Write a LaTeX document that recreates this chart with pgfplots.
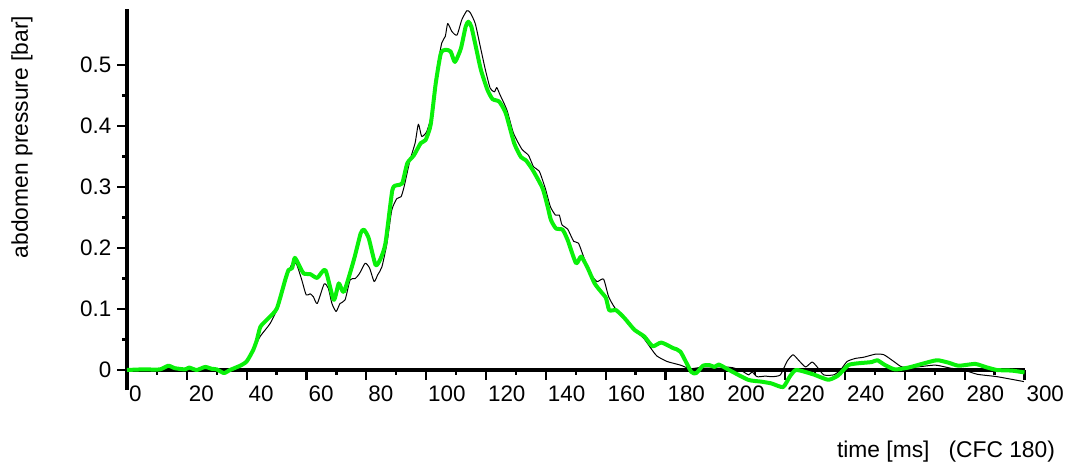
\documentclass[border=0pt]{standalone}
\usepackage{fontspec}
\setmainfont{Liberation Sans}
\usepackage{pgfplots}
\pgfplotsset{compat=1.18}
\definecolor{brightgreen}{RGB}{10,240,10}
\begin{document}
\begin{tikzpicture}
\useasboundingbox (-63.5pt,-39pt) rectangle (470.5pt,195pt);
\begin{axis}[
  at={(0,0)}, anchor=south west,
  scale only axis,
  width=448.75pt, height=190.5pt,
  xmin=0, xmax=300,
  ymin=-0.0328, ymax=0.5918,
  axis x line*=middle,
  axis y line*=left,
  hide obscured x ticks=false,
  hide obscured y ticks=false,
  axis line style={line width=1.6pt},
  x axis line style={line width=1.6pt},
  y axis line style={line width=1.6pt},
  tick align=outside,
  xtick={0,20,...,300},
  ytick={0,0.1,0.2,0.3,0.4,0.5},
  minor x tick num=1,
  minor y tick num=1,
  major tick length=4.8pt,
  minor tick length=2.4pt,
  major tick style={black, line width=1.1pt},
  minor tick style={black, line width=1.1pt},
  tick label style={font=\fontsize{11.2}{13}\selectfont},
  /pgf/number format/assume math mode=true,
  xticklabel style={anchor=north west, xshift=-2.5pt, yshift=0.5pt},
  yticklabel style={anchor=east, xshift=0.5pt},
  clip=false,
]
% black trace (unfiltered)
\addplot[black, line width=0.5pt, line join=round, smooth, tension=0.35] coordinates {
(0,0) (10,0) (20,0.001) (30,0) (35,0.002) (38.9,0.008) (42.3,0.033) (44.5,0.055)
(47.8,0.076) (50.6,0.104) (52.8,0.142) (54.5,0.167) (55.6,0.178) (56.8,0.172)
(58.4,0.148) (59.9,0.123) (61.2,0.125) (62.3,0.120) (63.6,0.109) (65.9,0.141)
(67.3,0.134) (68.5,0.109) (69.9,0.096) (71.2,0.109) (72.9,0.115) (74.6,0.148)
(76.3,0.150) (77.7,0.158) (79.6,0.175) (81.1,0.167) (82.6,0.145) (83.8,0.156)
(85.2,0.169) (86.9,0.208) (88.5,0.262) (90.2,0.281) (91.6,0.284) (92.6,0.300)
(94.6,0.344) (96.3,0.372) (97.4,0.403) (98.5,0.383) (100.2,0.391) (101.9,0.421)
(103.6,0.492) (105.2,0.536) (106.4,0.547) (107.2,0.568) (108.6,0.555) (110.3,0.549)
(111.9,0.574) (113.6,0.589) (114.7,0.586) (116.4,0.568) (118.1,0.530) (119.8,0.492)
(121.4,0.462) (122.8,0.456) (123.6,0.463) (124.7,0.451) (127,0.426) (129.2,0.388)
(132,0.362) (134.2,0.352) (135.9,0.333) (137.8,0.326) (139.8,0.298) (141.5,0.268)
(143.2,0.254) (144.5,0.254) (145.4,0.238) (147.3,0.231) (149.3,0.211) (150.9,0.208)
(152.6,0.186) (154.8,0.159) (157.1,0.145) (159.3,0.149) (161,0.120) (163.2,0.101)
(166.3,0.085) (169.6,0.066) (172.7,0.052) (175.5,0.033) (177.1,0.023) (180.5,0.014)
(185,0.008) (188.3,0.002) (192.7,0.005) (199.4,0.005) (202.2,0.004) (205,0)
(207.8,-0.008) (208.9,-0.003) (210.6,-0.011) (213.4,-0.010) (215.6,-0.011)
(218.4,-0.008) (220.6,0.014) (222.6,0.025) (224.5,0.016) (226.8,0.005) (229,0.013)
(230.7,0.005) (232.9,-0.008) (236.2,-0.008) (238.5,0) (240.7,0.014) (243.5,0.019)
(246.3,0.021) (250.2,0.026) (253,0.025) (256.3,0.014) (259.1,0.005) (264.1,0.005)
(270.2,0.008) (275.3,0.003) (279.7,0) (284.2,-0.007) (290.9,-0.011) (299.8,-0.019)
};
% green trace (CFC 180)
\addplot[brightgreen, line width=2pt, line join=round, smooth, tension=0.35] coordinates {
(0,0) (5,0.001) (11,0.001) (13.8,0.007) (16,0.003) (19.4,0.001) (20.8,0.004)
(23.3,0) (26.1,0.005) (28.3,0.002) (30,0.001) (32.4,-0.005) (34.4,0) (37.8,0.007)
(40,0.014) (42.2,0.033) (43.4,0.049) (44.6,0.071) (47.3,0.085) (50.1,0.101)
(52.9,0.148) (54,0.164) (55.2,0.167) (56.1,0.184) (58,0.167) (59.1,0.158)
(61.3,0.157) (63.6,0.151) (66.3,0.164) (69.1,0.115) (70.8,0.142) (72.5,0.128)
(75.8,0.180) (78.1,0.224) (79.2,0.230) (80.8,0.216) (83.1,0.172) (84.8,0.183)
(86.4,0.208) (88.7,0.295) (90.3,0.303) (92,0.306) (93.7,0.339) (95.9,0.352)
(98.2,0.372) (99.8,0.377) (101.5,0.402) (103.2,0.470) (104.9,0.519) (106.5,0.525)
(108.2,0.522) (109.6,0.505) (111.6,0.527) (113.2,0.563) (114.1,0.571) (115.1,0.563)
(116.6,0.530) (118.3,0.492) (120.5,0.459) (122.2,0.444) (124.4,0.440) (126.6,0.421)
(129.4,0.372) (131.7,0.349) (133.3,0.344) (135.6,0.328) (138.9,0.298) (140.6,0.268)
(141.7,0.246) (143.4,0.232) (145.6,0.230) (147.3,0.213) (150.1,0.175) (151.8,0.186)
(154,0.167) (156.3,0.142) (158.5,0.128) (160.1,0.118) (161.2,0.098) (163.5,0.098)
(166.3,0.085) (169.6,0.066) (172.9,0.055) (175.7,0.039) (178.6,0.045) (182.5,0.036)
(185,0.030) (188.6,-0.003) (190.3,-0.005) (192.5,0.007) (194.7,0.008) (196.4,0.005)
(197.8,0.009) (200.9,0.001) (207.6,-0.016) (211.9,-0.019) (215.4,-0.022)
(219.3,-0.028) (221.5,-0.011) (223.5,0) (226.6,-0.003) (229.9,-0.008) (234.4,-0.016)
(237.7,-0.009) (241.1,0.008) (244.4,0.011) (248.9,0.013) (250.8,0.016) (253.4,0.008)
(256.7,0.001) (261.2,0.004) (265.7,0.010) (270.7,0.016) (274.6,0.012) (278,0.007)
(283.5,0.010) (286.9,0.005) (290.8,0) (295.8,-0.001) (300,-0.004)
};
\end{axis}
\node[rotate=90, font=\fontsize{11.4}{13}\selectfont] at (-52.5pt,126.5pt) {abdomen pressure [bar]};
\node[anchor=east, font=\fontsize{11.4}{13}\selectfont] at (467.5pt,-31pt) {time [ms]\ \ \ (CFC 180)};
\end{tikzpicture}
\end{document}
